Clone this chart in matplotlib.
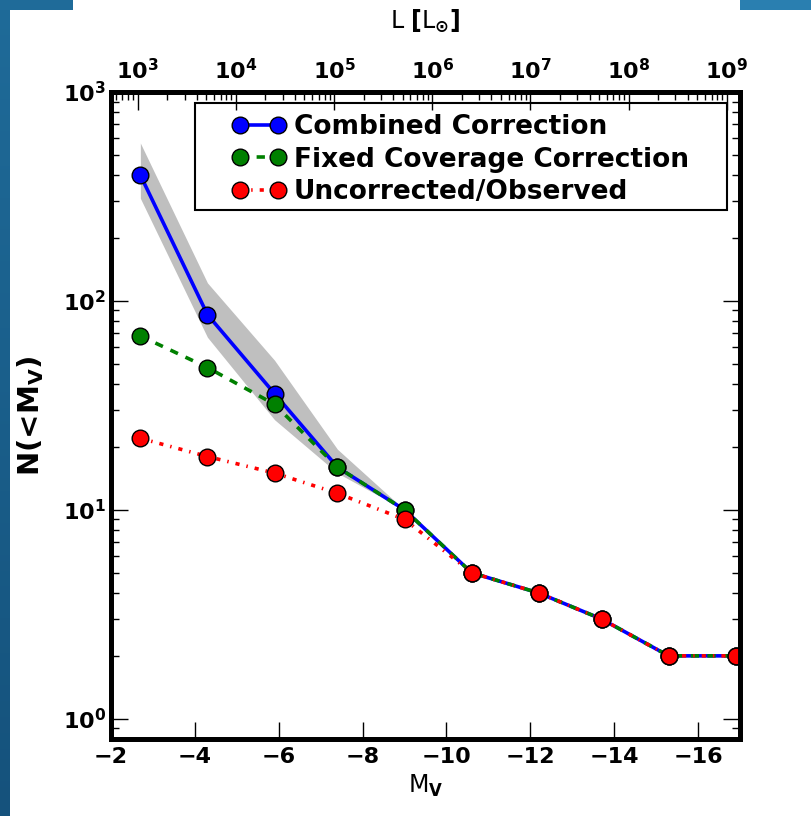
import numpy as np
import matplotlib
matplotlib.use("Agg")
import matplotlib.pyplot as plt
from matplotlib.patches import Rectangle
from matplotlib.ticker import LogLocator, NullFormatter, FixedLocator, FuncFormatter

# Absolute V magnitude bins
mv = [-2.7, -4.3, -5.9, -7.4, -9.0, -10.6, -12.2, -13.7, -15.3, -16.9]

# Cumulative counts N(<M_V)
combined = [400, 86, 36, 16, 10, 5, 4, 3, 2, 2]
fixed_cov = [68, 48, 32, 16, 10, 5, 4, 3, 2, 2]
observed = [22, 18, 15, 12, 9, 5, 4, 3, 2, 2]

# Uncertainty envelope of the combined correction
band_lo = [310, 67, 27, 15, 10, 5, 4, 3, 2, 2]
band_hi = [570, 122, 52, 19.5, 10, 5, 4, 3, 2, 2]

x_ticks = [-2, -4, -6, -8, -10, -12, -14, -16]
top_decades = [1e3, 1e4, 1e5, 1e6, 1e7, 1e8, 1e9]

plt.rcParams["font.family"] = ["DejaVu Sans"]
plt.rcParams["font.weight"] = "bold"
plt.rcParams["mathtext.fontset"] = "dejavusans"

W, H = 811, 816
fig = plt.figure(figsize=(W / 100, H / 100), dpi=100)
fig.patch.set_facecolor("white")

# slide border strips
grad = np.linspace(0, 1, 256).reshape(-1, 1)
edge = fig.add_axes([0, 0, 10 / W, 1])
edge.imshow(grad, aspect="auto", cmap=matplotlib.colors.LinearSegmentedColormap.from_list(
    "slide", ["#1f6b99", "#15527c"]), extent=[0, 1, 0, 1], origin="upper")
edge.axis("off")
for (x0, w) in [(0, 73), (740, 71)]:
    strip = fig.add_axes([x0 / W, 1 - 10 / H, w / W, 10 / H])
    strip.set_facecolor("#1f6b99" if x0 == 0 else "#2a7fb0")
    strip.set_xticks([]); strip.set_yticks([])
    for s in strip.spines.values():
        s.set_visible(False)

ax = fig.add_axes([111 / W, 1 - 739 / H, 629 / W, 647 / H])

LW = 2.6
ax.fill_between(mv, band_lo, band_hi, color="0.75", lw=0, zorder=1)
ax.plot(mv, combined, "-", color="blue", lw=LW, marker="o", ms=12,
        mfc="blue", mec="black", mew=1, label="Combined Correction", zorder=3)
ax.plot(mv, fixed_cov, color="green", lw=LW, dashes=(2.3, 2.3), marker="o", ms=12,
        mfc="green", mec="black", mew=1, label="Fixed Coverage Correction", zorder=4)
ax.plot(mv, observed, color="red", lw=LW, dashes=(1.15, 1.95, 0.4, 1.95), marker="o", ms=12,
        mfc="red", mec="black", mew=1, label="Uncorrected/Observed", zorder=5)

ax.set_yscale("log")
ax.set_xlim(-2, -17)
ax.set_ylim(0.8, 1000)
ax.xaxis.set_major_locator(FixedLocator(x_ticks))
ax.set_xticklabels([f"\u2212{abs(v)}" for v in x_ticks])
ax.yaxis.set_major_locator(LogLocator(base=10, numticks=10))
ax.yaxis.set_minor_locator(LogLocator(base=10, subs=np.arange(2, 10), numticks=10))
ax.yaxis.set_minor_formatter(NullFormatter())


def pow_label(v, pos):
    return r"$\mathbf{10^{%d}}$" % int(round(np.log10(v)))


ax.yaxis.set_major_formatter(FuncFormatter(pow_label))

ax.tick_params(axis="x", which="major", direction="in", length=12, width=1,
               labelsize=16, top=False, pad=6)
ax.tick_params(axis="y", which="major", direction="in", length=12, width=1,
               labelsize=16, left=True, right=True)
ax.tick_params(axis="y", which="minor", direction="in", length=6, width=1,
               left=True, right=True)
for lab in ax.get_xticklabels() + ax.get_yticklabels():
    lab.set_fontweight("bold")
for s in ax.spines.values():
    s.set_linewidth(3.5)

ax.set_xlabel(r"$\mathregular{M}_{\mathbf{V}}$", fontsize=17, labelpad=4)
ax.set_ylabel(r"N(<M$_{\mathbf{V}}$)", fontsize=21, fontweight="bold", labelpad=12)

# luminosity scale on the top axis
top = ax.twiny()
top.set_xscale("log")
top.set_xlim(10 ** 2.728, 10 ** 9.135)
top.xaxis.set_major_locator(FixedLocator(top_decades))
top.xaxis.set_major_formatter(FuncFormatter(pow_label))
top.xaxis.set_minor_locator(LogLocator(base=10, subs=np.arange(2, 10), numticks=20))
top.xaxis.set_minor_formatter(NullFormatter())
top.tick_params(axis="x", which="major", direction="in", length=13, width=1,
                labelsize=16, pad=6)
top.tick_params(axis="x", which="minor", direction="in", length=6, width=1)
top.set_xlabel(r"L $\mathbf{[}\mathregular{L}_{\odot}\mathbf{]}$", fontsize=17, labelpad=22)
for s in top.spines.values():
    s.set_linewidth(3.5)

# legend box frame, then the entries on top of it
frame = Rectangle((195 / W, 1 - 210 / H), 532 / W, 107 / H, transform=fig.transFigure,
                  facecolor="white", edgecolor="black", lw=1.5, zorder=9, clip_on=False)
ax.add_patch(frame)
leg = ax.legend(loc="upper left", bbox_to_anchor=(232 / W, 1 - 114 / H),
                bbox_transform=fig.transFigure, numpoints=2, frameon=False,
                prop={"weight": "bold", "size": 19},
                handlelength=2.04, handletextpad=0.3, borderaxespad=0,
                labelspacing=0.25, borderpad=0)
leg.set_zorder(10)

fig.savefig("out.png", dpi=100, facecolor="white")
